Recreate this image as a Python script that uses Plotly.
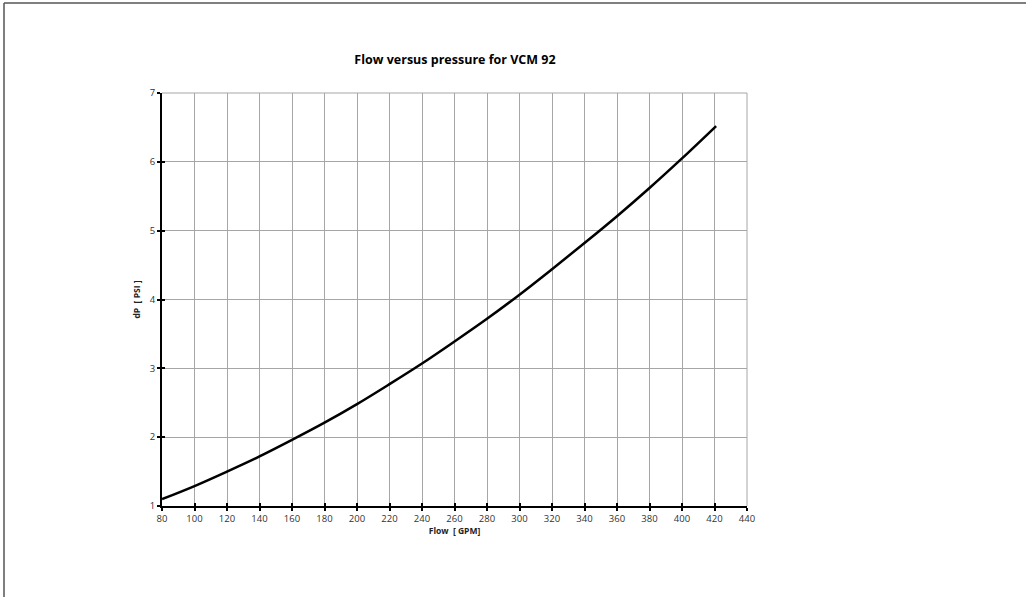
import plotly.graph_objects as go

flow_gpm = [80, 100, 120, 140, 160, 180, 200, 220, 240, 260, 280, 300, 320, 340, 360, 380, 400, 421]
dp_psi = [1.10, 1.29, 1.50, 1.72, 1.96, 2.21, 2.48, 2.77, 3.07, 3.39, 3.72, 4.07, 4.44, 4.82, 5.21, 5.62, 6.05, 6.52]
x_ticks = list(range(80, 441, 20))
y_ticks = [1, 2, 3, 4, 5, 6, 7]

W, H = 1026, 597
L, R, T, B = 162, 747, 93, 506

def px(x):
    return (x - L) / (R - L)

def py(y):
    return (B - y) / (B - T)

fig = go.Figure()
fig.add_trace(go.Scatter(x=flow_gpm, y=dp_psi, mode="lines",
                         line=dict(color="black", width=2.5, shape="spline", smoothing=1.0),
                         showlegend=False, hoverinfo="x+y"))

font_main = "Open Sans, Noto Sans, Liberation Sans, sans-serif"
fig.update_layout(
    width=W, height=H,
    margin=dict(l=L, r=W - R, t=T, b=H - B, pad=0),
    paper_bgcolor="white", plot_bgcolor="white",
    font=dict(family=font_main, size=9, color="#333333"),
    title=dict(text="<b>Flow versus pressure for VCM 92</b>", x=px(455), xref="paper",
               xanchor="center", y=1 - 60 / H, yanchor="middle",
               font=dict(size=12.5, color="black", family=font_main)),
    xaxis=dict(range=[80, 440], tickvals=x_ticks, ticktext=[str(v) for v in x_ticks],
               showgrid=True, gridcolor="#a6a6a6", gridwidth=1,
               showline=True, linecolor="black", linewidth=2,
               ticks="outside", ticklen=3, tickwidth=1.5, tickcolor="black",
               tickfont=dict(size=9.5, color="#333333"),
               title=dict(text="<b>Flow  [ GPM]</b>", font=dict(size=8.5, color="#222222"), standoff=3),
               zeroline=False, mirror=False),
    yaxis=dict(range=[1, 7], tickvals=y_ticks, ticktext=[str(v) for v in y_ticks],
               showgrid=True, gridcolor="#a6a6a6", gridwidth=1,
               showline=True, linecolor="black", linewidth=2,
               ticks="outside", ticklen=3, tickwidth=1.5, tickcolor="black",
               tickfont=dict(size=9.5, color="#333333"),
               title=dict(text="<b>dP  [ PSI ]</b>", font=dict(size=8.5, color="#222222"), standoff=8),
               zeroline=False),
    xaxis2=dict(overlaying="x", range=[80, 440], tickvals=x_ticks, showticklabels=False,
                ticks="inside", ticklen=3, tickwidth=1.5, tickcolor="black",
                showgrid=False, showline=False, zeroline=False, anchor="y"),
    yaxis2=dict(overlaying="y", range=[1, 7], tickvals=y_ticks, showticklabels=False,
                ticks="inside", ticklen=3, tickwidth=1.5, tickcolor="black",
                showgrid=False, showline=False, zeroline=False, anchor="x"),
)

# dummy trace to activate overlay axes
fig.add_trace(go.Scatter(x=[None], y=[None], xaxis="x2", yaxis="y2", showlegend=False, hoverinfo="skip"))

# plot border right and top (gray)
fig.add_shape(type="line", xref="paper", yref="paper", x0=1, x1=1, y0=0, y1=1,
              line=dict(color="#a6a6a6", width=1))
fig.add_shape(type="line", xref="paper", yref="paper", x0=0, x1=1, y0=1, y1=1,
              line=dict(color="#a6a6a6", width=1))

# outer chart border (top and left visible)
fig.add_shape(type="line", xref="paper", yref="paper", x0=px(4), x1=px(1030), y0=py(3), y1=py(3),
              line=dict(color="#555555", width=1.5), layer="above")
fig.add_shape(type="line", xref="paper", yref="paper", x0=px(4), x1=px(4), y0=py(3), y1=py(600),
              line=dict(color="#555555", width=1.5), layer="above")

fig.write_html("out.html", config={"displayModeBar": False},
               post_script="document.body.style.margin='0px';document.body.style.overflow='hidden';")
